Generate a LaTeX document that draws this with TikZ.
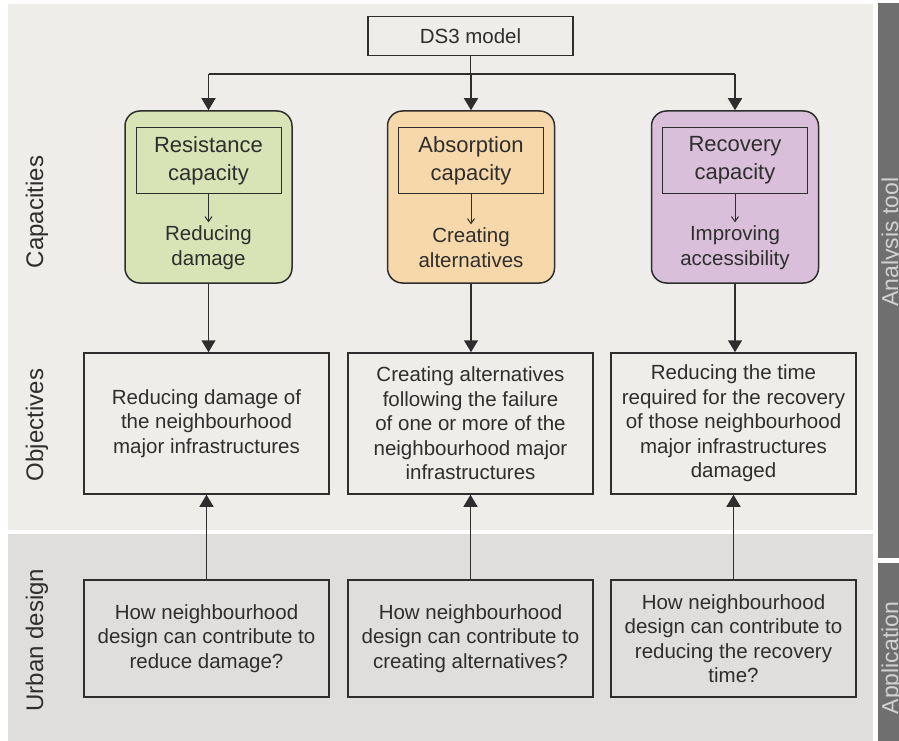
\documentclass[tikz,border=0pt]{standalone}
\usepackage{fontspec}
\setmainfont{Liberation Sans}
\usetikzlibrary{arrows.meta}

\definecolor{panelTop}{HTML}{EFEDEA}
\definecolor{panelBot}{HTML}{DFDEDD}
\definecolor{sideBar}{HTML}{6F6F6F}
\definecolor{sideText}{HTML}{D2D2D2}
\definecolor{ink}{HTML}{2E2E2E}
\definecolor{resFill}{HTML}{D8E3B6}
\definecolor{absFill}{HTML}{F7D8AA}
\definecolor{recFill}{HTML}{D9BFD9}

\tikzset{
  flowbox/.style={draw=ink, line width=1.5pt, minimum width=245pt, align=center, text=ink,
    font=\fontsize{20.5}{24.5}\selectfont},
  capbox/.style={draw=ink, line width=1.5pt, rounded corners=15pt, minimum width=167pt, minimum height=172pt},
  capinner/.style={draw=ink, line width=1pt, minimum width=145pt, minimum height=65pt, align=center, text=ink,
    font=\fontsize{22}{28}\selectfont},
  capsub/.style={align=center, text=ink, font=\fontsize{20.5}{25}\selectfont},
  rowlabel/.style={rotate=90, anchor=base, text=ink, font=\fontsize{24}{28}\selectfont},
  sidelabel/.style={rotate=90, anchor=base, text=sideText, font=\fontsize{23}{28}\selectfont},
  bigarrow/.style={line width=1.5pt, draw=ink, -{Triangle[width=14pt,length=12pt]}},
  smallarrow/.style={line width=1pt, draw=ink, -{Straight Barb[width=7pt,length=5pt]}}
}

\begin{document}
\begin{tikzpicture}[x=1pt,y=-1pt]
  \useasboundingbox (0,0) rectangle (899,741);
  % panels
  \fill[white] (0,0) rectangle (899,741);
  \fill[panelTop] (8,4) rectangle (873,530);
  \fill[panelBot] (8,534) rectangle (873,741);
  \fill[sideBar] (878,3) rectangle (899,558);
  \fill[sideBar] (878,563) rectangle (899,741);

  % row and side labels
  \node[rowlabel] (lblCap) at (43,212) {Capacities};
  \node[rowlabel] (lblObj) at (43,425) {Objectives};
  \node[rowlabel] (lblUrb) at (43,640) {Urban design};
  \node[sidelabel] (lblAna) at (898,242) {Analysis tool};
  \node[sidelabel] (lblApp) at (898,658) {Application};

  % top
  \node[flowbox, minimum width=205pt, minimum height=39pt] (ds3) at (470.5,36) {DS3 model};
  \coordinate (bus) at (470.5,74);

  % capacities
  \node[capbox, fill=resFill] (res) at (208.5,197) {};
  \node[capbox, fill=absFill] (abs) at (471,197) {};
  \node[capbox, fill=recFill] (rec) at (735,197) {};

  \node[capinner] (resT) at (208.5,160.5) {Resistance\\capacity};
  \node[capinner] (absT) at (471,160.5) {Absorption\\capacity};
  \node[capinner] (recT) at (735,160.5) {Recovery\\capacity};

  \node[capsub] (resS) at (208.5,248) {Reducing\\damage};
  \node[capsub] (absS) at (471,248) {Creating\\alternatives};
  \node[capsub] (recS) at (735,248) {Improving\\accessibility};

  % objectives
  \node[flowbox, minimum height=141pt] (objRes) at (206.5,423.5)
    {Reducing damage of\\the neighbourhood\\major infrastructures};
  \node[flowbox, minimum height=141pt] (objAbs) at (470.5,423.5)
    {Creating alternatives\\following the failure\\of one or more of the\\neighbourhood major\\infrastructures};
  \node[flowbox, minimum height=141pt] (objRec) at (733.5,423.5)
    {Reducing the time\\required for the recovery\\of those neighbourhood\\major infrastructures\\damaged};

  % urban design
  \node[flowbox, minimum height=117pt] (urbRes) at (206.5,638.5)
    {How neighbourhood\\design can contribute to\\reduce damage?};
  \node[flowbox, minimum height=117pt] (urbAbs) at (470.5,638.5)
    {How neighbourhood\\design can contribute to\\creating alternatives?};
  \node[flowbox, minimum height=117pt] (urbRec) at (733.5,638.5)
    {How neighbourhood\\design can contribute to\\reducing the recovery\\time?};

  % connectors
  \draw[line width=1.5pt, draw=ink] (ds3.south) -- (bus);
  \draw[line width=1.5pt, draw=ink] (res.north |- bus) -- (rec.north |- bus);
  \draw[bigarrow] (res.north |- bus) -- (res.north);
  \draw[bigarrow] (abs.north |- bus) -- (abs.north);
  \draw[bigarrow] (rec.north |- bus) -- (rec.north);

  \draw[smallarrow] (resT.south) -- (resS.north);
  \draw[smallarrow] (absT.south) -- (absS.north);
  \draw[smallarrow] (recT.south) -- (recS.north);

  \draw[bigarrow] (res.south) -- (res.south |- objRes.north);
  \draw[bigarrow] (abs.south) -- (abs.south |- objAbs.north);
  \draw[bigarrow] (rec.south) -- (rec.south |- objRec.north);

  \draw[bigarrow] (urbRes.north) -- (objRes.south);
  \draw[bigarrow] (urbAbs.north) -- (objAbs.south);
  \draw[bigarrow] (urbRec.north) -- (objRec.south);
\end{tikzpicture}
\end{document}
